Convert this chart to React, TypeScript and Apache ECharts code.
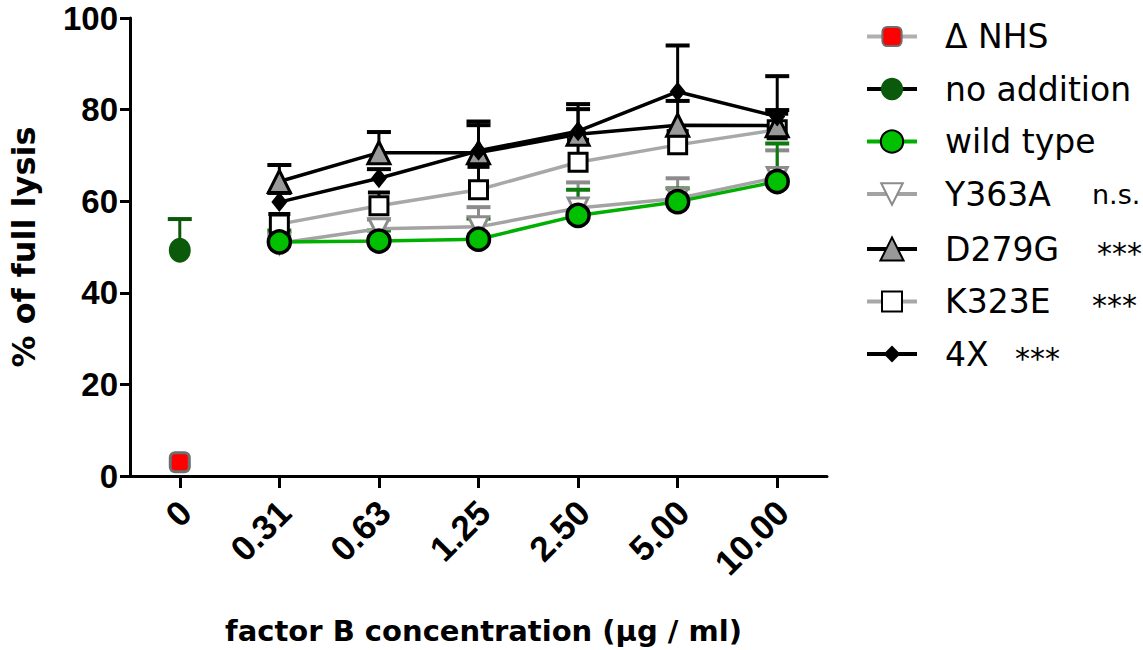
import React, { useEffect, useRef } from "react";
import * as echarts from "echarts";

const categories = ["0", "0.31", "0.63", "1.25", "2.50", "5.00", "10.00"];
const yMin = 0;
const yMax = 100;
const yInterval = 20;

const deltaNHS = [3, null, null, null, null, null, null];
const deltaNHSErr = [0.3, null, null, null, null, null, null];
const noAddition = [49.3, null, null, null, null, null, null];
const noAdditionErr = [6.8, null, null, null, null, null, null];
const wildType = [null, 51.1, 51.3, 51.7, 56.9, 59.9, 64.3];
const wildTypeErr = [null, 2.5, 2.3, 4.5, 5.6, 2.9, 8.3];
const y363a = [null, 50.8, 54.0, 54.4, 58.5, 60.6, 65.2];
const y363aErr = [null, 2.0, 2.0, 4.3, 5.6, 4.4, 5.9];
const d279g = [null, 64.3, 70.6, 70.6, 74.6, 76.6, 76.5];
const d279gErr = [null, 3.6, 4.5, 6.0, 5.5, 5.3, 3.4];
const k323e = [null, 55.0, 59.0, 62.5, 68.5, 72.3, 75.6];
const k323eErr = [null, 2.2, 2.9, 5.0, 4.9, 3.0, 3.5];
const fourX = [null, 59.8, 65.0, 71.0, 75.3, 83.9, 78.5];
const fourXErr = [null, 2.0, 2.0, 6.4, 5.9, 10.1, 8.8];

const seriesNames = ["Δ NHS", "no addition", "wild type", "Y363A", "D279G", "K323E", "4X"];
const annotations = ["", "", "", "n.s.", "***", "***", "***"];

function errData(vals: (number | null)[], errs: (number | null)[]) {
  const out: number[][] = [];
  vals.forEach((v, i) => {
    if (v != null && errs[i] != null) out.push([i, v, errs[i] as number]);
  });
  return out;
}

function errSeries(name: string, vals: (number | null)[], errs: (number | null)[], color: string, capHalf: number) {
  return {
    type: "custom",
    name,
    data: errData(vals, errs),
    encode: { x: 0, y: 1 },
    renderItem: (params: any, api: any) => {
      const x = api.value(0);
      const y = api.value(1);
      const e = api.value(2);
      const p0 = api.coord([x, y]);
      const p1 = api.coord([x, y + e]);
      return {
        type: "group",
        children: [
          { type: "line", shape: { x1: p0[0], y1: p0[1], x2: p1[0], y2: p1[1] }, style: { stroke: color, lineWidth: 3 } },
          { type: "line", shape: { x1: p1[0] - capHalf, y1: p1[1], x2: p1[0] + capHalf, y2: p1[1] }, style: { stroke: color, lineWidth: 4 } },
        ],
      };
    },
  };
}

export default function App() {
  const ref = useRef<HTMLDivElement>(null);
  useEffect(() => {
    document.body.style.margin = "0";
    const chart = echarts.init(ref.current!, null, { renderer: "svg" });

    const legendRows = [
      { name: seriesNames[0], top: 40, ih: 24, nw: 0, annot: "" },
      { name: seriesNames[1], top: 92.5, ih: 28, nw: 0, annot: "" },
      { name: seriesNames[2], top: 145, ih: 28, nw: 0, annot: "" },
      { name: seriesNames[3], top: 197.5, ih: 27, nw: 147, annot: annotations[3] },
      { name: seriesNames[4], top: 250, ih: 29, nw: 152, annot: annotations[4] },
      { name: seriesNames[5], top: 302.5, ih: 25, nw: 147, annot: annotations[5] },
      { name: seriesNames[6], top: 355, ih: 21, nw: 70, annot: annotations[6] },
    ];

    const legends = legendRows.map((r) => ({
      data: [r.name],
      orient: "vertical",
      left: 865,
      top: r.top - 20,
      padding: 0,
      itemWidth: 50,
      itemHeight: r.ih,
      selectedMode: false,
      lineStyle: { width: 4 },
      formatter: (n: string) => (r.annot ? `{sp| }{n|${n}}{a|${r.annot}}` : `{sp| }{n|${n}}`),
      textStyle: {
        color: "#000",
        rich: {
          sp: { width: 23, fontSize: 33, lineHeight: 40 },
          n: { fontSize: 33, fontFamily: "DejaVu Sans", color: "#000", lineHeight: 40, width: r.nw || undefined },
          a: { fontSize: r.annot === "n.s." ? 27 : 30, fontFamily: "DejaVu Sans", color: "#000", lineHeight: 40, padding: r.annot === "n.s." ? 0 : [8, 0, 0, 0] },
        },
      },
    }));

    const option: any = {
      animation: false,
      backgroundColor: "#fff",
      grid: { left: 127, right: 316, top: 18, bottom: 169, containLabel: false },
      legend: legends,
      xAxis: {
        type: "category",
        data: categories,
        boundaryGap: true,
        name: "factor B concentration (μg / ml)",
        nameLocation: "middle",
        nameGap: 140,
        nameTextStyle: { fontSize: 29, fontWeight: "bold", fontFamily: "DejaVu Sans", color: "#000", padding: [0, 0, 0, 10] },
        axisLine: { show: true, lineStyle: { color: "#000", width: 3 } },
        axisTick: { show: true, alignWithLabel: true, length: 12, lineStyle: { color: "#000", width: 3 } },
        axisLabel: { interval: 0, rotate: 45, margin: 11, verticalAlign: "top", padding: [0, 10, 0, 0], fontSize: 35, fontWeight: "bold", fontFamily: "Liberation Sans", color: "#000" },
        splitLine: { show: false },
      },
      yAxis: {
        type: "value",
        min: yMin,
        max: yMax,
        interval: yInterval,
        name: "% of full lysis",
        nameLocation: "middle",
        nameGap: 90,
        nameRotate: 90,
        nameTextStyle: { fontSize: 32, fontWeight: "bold", fontFamily: "DejaVu Sans", color: "#000" },
        axisLine: { show: true, lineStyle: { color: "#000", width: 3 } },
        axisTick: { show: true, length: 10, lineStyle: { color: "#000", width: 3 } },
        axisLabel: { margin: 12, fontSize: 33, lineHeight: 28, padding: [3, 0, 0, 0], fontWeight: "bold", fontFamily: "Liberation Sans", color: "#000" },
        splitLine: { show: false },
      },
      series: [
        {
          type: "line", name: seriesNames[0], data: deltaNHS, symbol: "roundRect", symbolSize: 19,
          lineStyle: { color: "#b0b0b0", width: 3 },
          itemStyle: { color: "#ff0000", borderColor: "#6e6e6e", borderWidth: 3 },
        },
        errSeries("Δ NHS err", deltaNHS, deltaNHSErr, "#000", 8),
        {
          type: "line", name: seriesNames[1], data: noAddition, symbol: "circle", symbolSize: [22, 25],
          lineStyle: { color: "#000", width: 3 },
          itemStyle: { color: "#0b5a0b", borderWidth: 0 },
        },
        errSeries("no addition err", noAddition, noAdditionErr, "#0b5a0b", 12),
        {
          type: "line", name: seriesNames[3], data: y363a, symbol: "triangle", symbolRotate: 180, symbolSize: 20,
          lineStyle: { color: "#a3a3a3", width: 3.5 },
          itemStyle: { color: "#fff", borderColor: "#8c8c8c", borderWidth: 3 },
        },
        errSeries("Y363A err", y363a, y363aErr, "#8c8c8c", 12),
        {
          type: "line", name: seriesNames[5], data: k323e, symbol: "rect", symbolSize: 18,
          lineStyle: { color: "#a8a8a8", width: 3.5 },
          itemStyle: { color: "#fff", borderColor: "#000", borderWidth: 3 },
        },
        errSeries("K323E err", k323e, k323eErr, "#000", 11),
        {
          type: "line", name: seriesNames[4], data: d279g, symbol: "triangle", symbolSize: 22,
          lineStyle: { color: "#000", width: 3.5 },
          itemStyle: { color: "#999", borderColor: "#000", borderWidth: 3 },
        },
        errSeries("D279G err", d279g, d279gErr, "#000", 12),
        {
          type: "line", name: seriesNames[6], data: fourX, symbol: "diamond", symbolSize: [16, 20],
          lineStyle: { color: "#000", width: 3.5 },
          itemStyle: { color: "#000", borderWidth: 0 },
        },
        errSeries("4X err", fourX, fourXErr, "#000", 12),
        {
          type: "line", name: seriesNames[2], data: wildType, symbol: "circle", symbolSize: 22,
          lineStyle: { color: "#00b000", width: 3.5 },
          itemStyle: { color: "#00c000", borderColor: "#000", borderWidth: 3.5 },
        },
        errSeries("wild type err", wildType, wildTypeErr, "#0c7a0c", 12),
      ],
    };
    chart.setOption(option);
    return () => chart.dispose();
  }, []);
  return <div ref={ref} style={{ width: 1143, height: 650 }} />;
}
